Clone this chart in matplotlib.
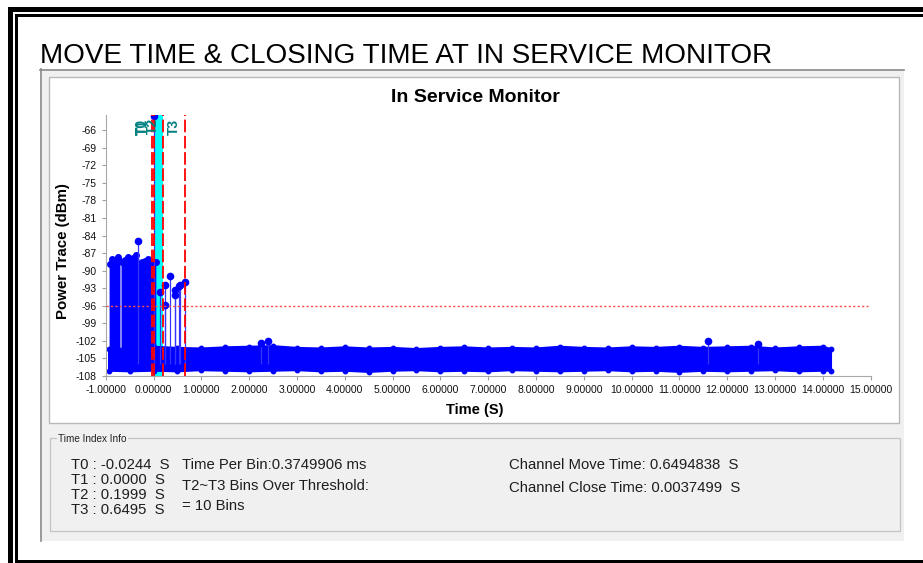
import matplotlib.pyplot as plt
from matplotlib.patches import Rectangle

plt.rcParams['font.family'] = ['Liberation Sans', 'DejaVu Sans']

# Time markers (s)
t_marks = [-0.0244, 0.0, 0.1999, 0.6495]
t_names = ['T0', 'T1', 'T2', 'T3']
threshold = -96.0  # dBm

# Dense trace before the switch: top edge (dBm), split by the thin gap
pre1_t = [-0.91, -0.86, -0.80, -0.75, -0.70]
pre1_top = [-88.8, -88.0, -88.3, -87.6, -88.4]
pre2_t = [-0.66, -0.60, -0.54, -0.48, -0.42, -0.36, -0.30, -0.24, -0.18, -0.12, -0.06, 0.00, 0.05]
pre2_top = [-88.5, -88.1, -87.6, -88.3, -87.9, -87.3, -88.8, -88.6, -88.4, -88.0, -88.3, -88.6, -88.6]

# Noise floor band (top / bottom of the dense stems)
noise_t = [-0.93, -0.5, 0.0, 0.5, 1.0, 1.5, 2.0, 2.5, 3.0, 3.5, 4.0, 4.5, 5.0, 5.5, 6.0, 6.5,
           7.0, 7.5, 8.0, 8.5, 9.0, 9.5, 10.0, 10.5, 11.0, 11.5, 12.0, 12.5, 13.0, 13.5, 14.0, 14.17]
noise_top = [-103.4, -103.3, -103.0, -103.2, -103.3, -103.1, -103.0, -102.9, -103.2, -103.3, -103.1,
             -103.3, -103.2, -103.4, -103.2, -103.1, -103.3, -103.2, -103.3, -103.0, -103.2, -103.3,
             -103.1, -103.2, -103.0, -103.2, -103.1, -103.0, -103.3, -103.1, -103.0, -103.4]
noise_bot = [-107.1, -107.2, -107.1, -107.2, -107.0, -107.1, -107.2, -107.1, -107.0, -107.2, -107.1,
             -107.3, -107.1, -107.0, -107.2, -107.1, -107.2, -107.0, -107.1, -107.2, -107.1, -107.0,
             -107.2, -107.1, -107.3, -107.1, -107.2, -107.1, -107.0, -107.2, -107.1, -107.1]
stem_base = -106.0

# Single stems sticking out of the trace
spike_t = [-0.32, 0.0, 0.14, 0.24, 0.24, 0.34, 0.44, 0.45, 0.54, 0.55, 0.66, 2.25, 2.40, 11.60, 12.65]
spike_v = [-84.9, -63.6, -93.6, -92.4, -95.9, -90.9, -93.3, -94.1, -92.7, -92.4, -91.9,
           -102.4, -102.0, -102.0, -102.5]

x_ticks = [-1, 0, 1, 2, 3, 4, 5, 6, 7, 8, 9, 10, 11, 12, 13, 14, 15]
y_ticks = [-108, -105, -102, -99, -96, -93, -90, -87, -84, -81, -78, -75, -72, -69, -66]

W, H = 923, 563
fig = plt.figure(figsize=(W / 100, H / 100), dpi=100)

# background "window" drawn in pixel coordinates
bg = fig.add_axes([0, 0, 1, 1])
bg.set_xlim(0, W)
bg.set_ylim(H, 0)
bg.axis('off')
for x, y, w, h in [(8, 7, 915, 5), (15, 14, 908, 2.5), (8, 7, 5, 556), (15, 14, 2.5, 547), (15, 559.5, 908, 3.5)]:
    bg.add_patch(Rectangle((x, y), w, h, color='black', lw=0))
bg.add_patch(Rectangle((40, 69), 864, 472, facecolor='#f0f0f0', lw=0))
bg.plot([40, 904], [69.5, 69.5], color='#8a8a8a', lw=1.2)
bg.plot([40.5, 40.5], [69, 541], color='#8a8a8a', lw=1.2)
bg.add_patch(Rectangle((49, 77), 850, 346, facecolor='white', edgecolor='#b8b8b8', lw=1))
bg.add_patch(Rectangle((50, 438), 850, 93, facecolor='none', edgecolor='#c4c4c4', lw=0.9))

bg.text(40, 63, 'MOVE TIME & CLOSING TIME AT IN SERVICE MONITOR', fontsize=20.1,
        va='baseline', ha='left', color='black')
bg.text(475, 98, 'In Service Monitor', fontsize=14, weight='bold', ha='center', va='center')
bg.text(63, 251, 'Power Trace (dBm)', fontsize=10.8, weight='bold', rotation=90, ha='center', va='center')
bg.text(475, 410, 'Time (S)', fontsize=10.5, weight='bold', ha='center', va='center')

# "Time Index Info" group
bg.text(58, 441.5, 'Time Index Info', fontsize=7.2, va='baseline', color='#222222',
        bbox=dict(facecolor='#f0f0f0', edgecolor='none', pad=1))
info_col = '#1e1e1e'
info_fs = 10.7
for txt, yb in zip(['T0 : -0.0244  S', 'T1 : 0.0000  S', 'T2 : 0.1999  S', 'T3 : 0.6495  S'],
                   [469, 483.6, 498.6, 514]):
    bg.text(70.7, yb, txt, fontsize=info_fs, va='baseline', color=info_col)
bg.text(182, 469, 'Time Per Bin:0.3749906 ms', fontsize=info_fs, va='baseline', color=info_col)
bg.text(182, 490, 'T2~T3 Bins Over Threshold:', fontsize=info_fs, va='baseline', color=info_col)
bg.text(182, 510, '= 10 Bins', fontsize=info_fs, va='baseline', color=info_col)
bg.text(509.3, 469, 'Channel Move Time: 0.6494838  S', fontsize=info_fs, va='baseline', color=info_col)
bg.text(509.3, 492, 'Channel Close Time: 0.0037499  S', fontsize=info_fs, va='baseline', color=info_col)

# main plot
ax = fig.add_axes([105.7 / W, (H - 376) / H, 765 / W, 261 / H])
ax.set_zorder(2)
ax.patch.set_alpha(0)
ax.set_xlim(-1, 15)
ax.set_ylim(-108, -63.4)

blue = '#0000ff'
ax.axvspan(t_marks[1], t_marks[2], color='#00ffff', lw=0, zorder=1)

# noise floor as one closed polygon
ax.fill(noise_t + noise_t[::-1], noise_top + noise_bot[::-1], facecolor=blue, edgecolor=blue,
        lw=1.5, joinstyle='round', zorder=2)
ax.plot(noise_t, noise_top, 'o', color=blue, ms=3.2, zorder=2)
ax.plot(noise_t, noise_bot, 'o', color=blue, ms=3.2, zorder=2)
for pt, ptop in [(pre1_t, pre1_top), (pre2_t, pre2_top)]:
    ax.fill(pt + pt[::-1], ptop + [stem_base] * len(pt), facecolor=blue, edgecolor=blue, lw=0.6, zorder=2)
    ax.plot(pt, ptop, color=blue, lw=2, marker='o', ms=4, zorder=2)

ax.vlines(spike_t, stem_base, spike_v, color='#3535ff', lw=0.9, zorder=3)
ax.plot(spike_t, spike_v, 'o', color=blue, ms=4.5, zorder=3)

ax.axhline(threshold, xmax=0.997, color='#ff4d4d', lw=1, dashes=(1.6, 1.6), zorder=4)
for t, name in zip(t_marks, t_names):
    ax.axvline(t, color='red', lw=1.3, dashes=(7, 2), zorder=4)
    ax.annotate(name, xy=(t, 1), xycoords=('data', 'axes fraction'), xytext=(-2.5, -2.5),
                textcoords='offset points', rotation=90, ha='right', va='top',
                color='#008080', fontsize=10, weight='bold', zorder=5)

ax.set_xticks(x_ticks)
ax.set_xticklabels(['%.5f' % v for v in x_ticks])
ax.set_yticks(y_ticks)
ax.set_yticklabels([str(v) for v in y_ticks])
ax.tick_params(direction='out', length=3, color='#a0a0a0', labelsize=7.5, pad=3.5, labelcolor='#111111')
for s in ['top', 'right']:
    ax.spines[s].set_visible(False)
for s in ['left', 'bottom']:
    ax.spines[s].set_color('#a8a8a8')

fig.savefig('out.png', dpi=100)
